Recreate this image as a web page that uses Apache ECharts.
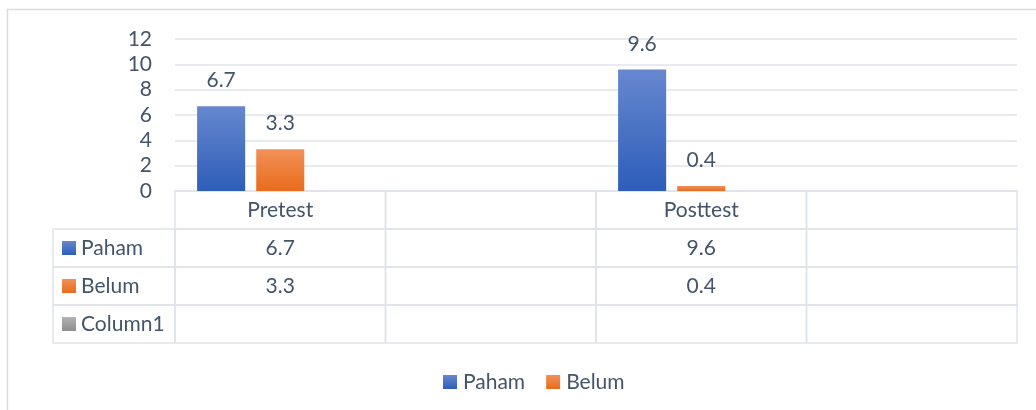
<!DOCTYPE html>
<html>
<head>
<meta charset="utf-8">
<script src="https://cdn.jsdelivr.net/npm/echarts@6/dist/echarts.min.js"></script>
<style>html,body{margin:0;padding:0;background:#fff;}#c{width:1036px;height:410px;}</style>
</head>
<body>
<div id="c"></div>
<script>
// ---- data ----
const categories = ['Pretest', '', 'Posttest', ''];
const paham = [6.7, null, 9.6, null];
const belum = [3.3, null, 0.4, null];
const column1 = [null, null, null, null];
const seriesNames = ['Paham', 'Belum', 'Column1'];
const tableRows = ['', 'Paham', 'Belum', 'Column1'];
const yTicks = { min: 0, max: 12, interval: 2 };

// ---- style ----
const FONT = 'Lato, "Open Sans", sans-serif';
const TXT = '#44546a';
const BORDER = '#dfe3ea';
const grad = (a, b) => new echarts.graphic.LinearGradient(0, 0, 0, 1, [{offset: 0, color: a}, {offset: 1, color: b}]);
const colors = [grad('#6787d0', '#2d5eb9'), grad('#f19158', '#e86c1c'), grad('#b2b2b2', '#8e8e8e')];
const seriesValues = [paham, belum, column1];
const rowHeaderWidth = 122;

const fmt = v => (v === null || v === undefined) ? '' : String(v);

const tableData = [];
for (let r = 0; r < tableRows.length; r++) {
  for (let c = 0; c < categories.length; c++) tableData.push([c, r]);
}

const chart = echarts.init(document.getElementById('c'), null, {renderer: 'canvas'});

const barSeries = seriesNames.map((name, i) => ({
  name,
  type: 'bar',
  xAxisIndex: 0,
  yAxisIndex: 0,
  data: seriesValues[i],
  barGap: '23%',
  barCategoryGap: '21%',
  itemStyle: { color: colors[i] },
  label: {
    show: true,
    position: 'top',
    distance: 15,
    fontSize: 21,
    fontFamily: FONT,
    color: TXT
  }
}));

const option = {
  animation: false,
  backgroundColor: '#fff',
  textStyle: { fontFamily: FONT },
  graphic: [{
    type: 'rect',
    shape: { x: 7.5, y: 9.5, width: 1200, height: 600 },
    style: { fill: 'none', stroke: '#d9dde3', lineWidth: 1.5 },
    silent: true,
    z: -10
  }],
  legend: {
    data: ['Paham', 'Belum'],
    left: 438,
    top: 366,
    itemWidth: 14,
    itemHeight: 14,
    itemGap: 21,
    icon: 'rect',
    textStyle: { fontSize: 21, fontFamily: FONT, color: TXT, lineHeight: 22, padding: [0, 0, 0, 1] }
  },
  grid: [
    { left: 175, right: 19, top: 39, height: 152 },
    { left: 175, right: 19, top: 191, height: 152 }
  ],
  xAxis: [
    {
      type: 'category', gridIndex: 0, data: categories,
      axisLine: { show: false }, axisTick: { show: false }, axisLabel: { show: false }
    },
    {
      type: 'category', gridIndex: 1, data: categories, show: false
    }
  ],
  yAxis: [
    {
      type: 'value', gridIndex: 0, min: yTicks.min, max: yTicks.max, interval: yTicks.interval,
      axisLine: { show: false }, axisTick: { show: false },
      axisLabel: { fontSize: 21, fontFamily: FONT, color: TXT, margin: 23 },
      splitLine: { lineStyle: { color: BORDER, width: 1.5 } }
    },
    {
      type: 'category', gridIndex: 1, data: tableRows, inverse: true, show: false
    }
  ],
  series: barSeries.concat([{
    type: 'custom',
    name: 'table',
    xAxisIndex: 1,
    yAxisIndex: 1,
    clip: false,
    silent: true,
    data: tableData,
    renderItem: function (params, api) {
      const c = api.value(0), r = api.value(1);
      const ctr = api.coord([c, r]);
      const sz = api.size([1, 1]);
      const w = Math.abs(sz[0]), h = Math.abs(sz[1]);
      const x = ctr[0] - w / 2, y = ctr[1] - h / 2;
      const children = [{
        type: 'rect',
        shape: { x: x, y: y, width: w, height: h },
        style: { fill: 'none', stroke: BORDER, lineWidth: 1.5 }
      }];
      const text = r === 0 ? categories[c] : fmt(seriesValues[r - 1][c]);
      children.push({
        type: 'text',
        style: { text: text, x: ctr[0], y: ctr[1], align: 'center', verticalAlign: 'middle',
                 fontSize: 21, fontFamily: FONT, fill: TXT }
      });
      if (c === 0 && r > 0) {
        const hx = x - rowHeaderWidth;
        children.push({
          type: 'rect',
          shape: { x: hx, y: y, width: rowHeaderWidth, height: h },
          style: { fill: 'none', stroke: BORDER, lineWidth: 1.5 }
        });
        children.push({
          type: 'rect',
          shape: { x: hx + 9, y: ctr[1] - 7, width: 14, height: 14 },
          style: { fill: colors[r - 1] }
        });
        children.push({
          type: 'text',
          style: { text: tableRows[r], x: hx + 28, y: ctr[1], align: 'left', verticalAlign: 'middle',
                   fontSize: 21, fontFamily: FONT, fill: TXT }
        });
      }
      return { type: 'group', children: children };
    }
  }])
};

chart.setOption(option);
</script>
</body>
</html>
